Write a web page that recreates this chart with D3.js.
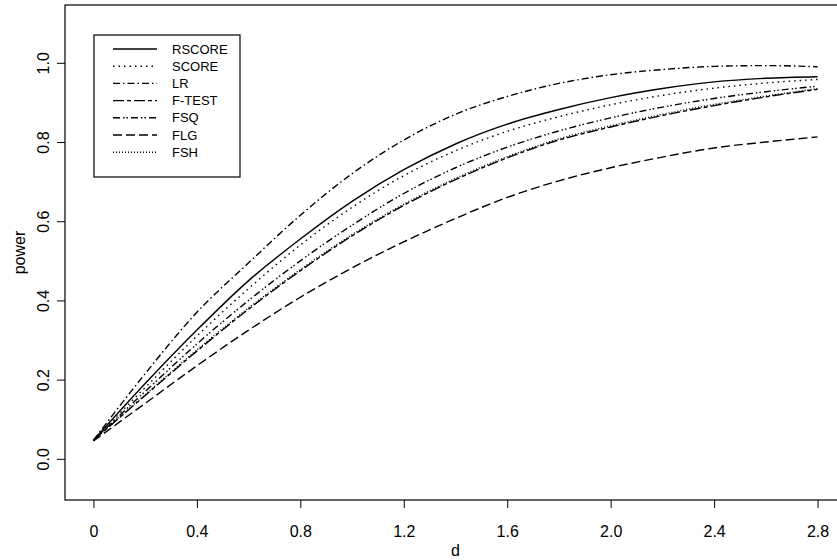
<!DOCTYPE html>
<html>
<head>
<meta charset="utf-8">
<script src="https://cdn.jsdelivr.net/npm/d3@7"></script>
<style>
body { margin: 0; background: #fff; }
text { font-family: "Liberation Sans", Arial, sans-serif; fill: #000; }
</style>
</head>
<body>
<svg id="chart" width="837" height="560"></svg>
<script>
// power curves, one value per d
var dValues = [0, 0.2, 0.4, 0.6, 0.8, 1.0, 1.2, 1.4, 1.6, 1.8, 2.0, 2.2, 2.4, 2.6, 2.8];
var rscore = [0.047, 0.19, 0.325, 0.45, 0.555, 0.65, 0.73, 0.795, 0.845, 0.882, 0.912, 0.935, 0.952, 0.961, 0.965];
var score  = [0.047, 0.18, 0.31, 0.43, 0.54, 0.635, 0.715, 0.778, 0.827, 0.864, 0.894, 0.918, 0.936, 0.949, 0.958];
var lr     = [0.047, 0.215, 0.37, 0.495, 0.615, 0.72, 0.805, 0.87, 0.915, 0.948, 0.97, 0.983, 0.991, 0.993, 0.99];
var ftest  = [0.047, 0.16, 0.272, 0.378, 0.475, 0.563, 0.64, 0.705, 0.76, 0.805, 0.838, 0.867, 0.892, 0.914, 0.933];
var fsq    = [0.047, 0.17, 0.29, 0.40, 0.50, 0.59, 0.67, 0.735, 0.787, 0.828, 0.861, 0.888, 0.91, 0.927, 0.941];
var flg    = [0.045, 0.14, 0.235, 0.325, 0.408, 0.482, 0.548, 0.607, 0.66, 0.702, 0.735, 0.762, 0.785, 0.80, 0.813];
var fsh    = [0.047, 0.162, 0.275, 0.381, 0.478, 0.566, 0.643, 0.708, 0.763, 0.808, 0.841, 0.87, 0.895, 0.916, 0.935];

var seriesNames = ["RSCORE", "SCORE", "LR", "F-TEST", "FSQ", "FLG", "FSH"];
var seriesValues = [rscore, score, lr, ftest, fsq, flg, fsh];

var xTickValues = [0, 0.4, 0.8, 1.2, 1.6, 2.0, 2.4, 2.8];
var xTickLabels = ["0", "0.4", "0.8", "1.2", "1.6", "2.0", "2.4", "2.8"];
var yTickValues = [0, 0.2, 0.4, 0.6, 0.8, 1.0];
var yTickLabels = ["0.0", "0.2", "0.4", "0.6", "0.8", "1.0"];

// line type per series (R lty look-alikes)
var dashes = {
    "RSCORE": null,
    "SCORE": "1.5,4",
    "LR": "7,3,1.5,3",
    "F-TEST": "11,3,4,3",
    "FSQ": "7,3,1.5,2,1.5,3",
    "FLG": "9,4",
    "FSH": "1,2"
};

var svg = d3.select("#chart");
var plot = {left: 65, top: 5, right: 846, bottom: 500};

var x = d3.scaleLinear()
    .domain([-0.11, 2.91])
    .range([plot.left, plot.right]);
var y = d3.scaleLinear()
    .domain([-0.104, 1.146])
    .range([plot.bottom, plot.top]);

//x axis
var xAxis = d3.axisBottom(x)
    .tickValues(xTickValues)
    .tickFormat(function(d, i){ return xTickLabels[i]; })
    .tickSize(8)
    .tickPadding(18);
var gx = svg.append("g")
    .attr("transform", "translate(0," + plot.bottom + ")")
    .call(xAxis);
gx.select(".domain").remove();
gx.selectAll("text").attr("font-size", "16px").attr("font-family", "Liberation Sans, Arial, sans-serif");

//y axis, labels turned like R's las=0
var yAxis = d3.axisLeft(y)
    .tickValues(yTickValues)
    .tickFormat(function(d, i){ return yTickLabels[i]; })
    .tickSize(8);
var gy = svg.append("g")
    .attr("transform", "translate(" + plot.left + ",0)")
    .call(yAxis);
gy.select(".domain").remove();
gy.selectAll("text")
    .attr("x", null)
    .attr("dy", null)
    .attr("transform", "translate(-16,0) rotate(-90)")
    .attr("text-anchor", "middle")
    .attr("font-size", "16px")
    .attr("font-family", "Liberation Sans, Arial, sans-serif");

svg.selectAll(".tick line").attr("stroke", "#000");

// box round the plot
svg.append("rect")
    .attr("x", plot.left)
    .attr("y", plot.top)
    .attr("width", plot.right - plot.left)
    .attr("height", plot.bottom - plot.top)
    .attr("fill", "none")
    .attr("stroke", "#000")
    .attr("stroke-width", 1.2);

svg.append("text")
    .attr("x", (plot.left + plot.right) / 2)
    .attr("y", 556)
    .attr("text-anchor", "middle")
    .attr("font-size", "16px")
    .text("d");
svg.append("text")
    .attr("transform", "translate(25," + (plot.top + plot.bottom) / 2 + ") rotate(-90)")
    .attr("text-anchor", "middle")
    .attr("font-size", "16px")
    .text("power");

// curves
var line = d3.line()
    .x(function(d){ return x(d[0]); })
    .y(function(d){ return y(d[1]); })
    .curve(d3.curveMonotoneX);

seriesNames.forEach(function(name, i){
    var pts = dValues.map(function(d, j){ return [d, seriesValues[i][j]]; });
    svg.append("path")
        .datum(pts)
        .attr("d", line)
        .attr("fill", "none")
        .attr("stroke", "#000")
        .attr("stroke-width", 1.4)
        .attr("stroke-dasharray", dashes[name]);
});

// legend
var legend = svg.append("g");
legend.append("rect")
    .attr("x", 94)
    .attr("y", 35)
    .attr("width", 146)
    .attr("height", 142)
    .attr("fill", "#fff")
    .attr("stroke", "#000")
    .attr("stroke-width", 1.2);
seriesNames.forEach(function(name, i){
    var ly = 49 + i * 17.2;
    legend.append("line")
        .attr("x1", 113).attr("x2", 157)
        .attr("y1", ly).attr("y2", ly)
        .attr("stroke", "#000")
        .attr("stroke-width", 1.4)
        .attr("stroke-dasharray", dashes[name]);
    legend.append("text")
        .attr("x", 172)
        .attr("y", ly)
        .attr("dy", "0.36em")
        .attr("font-size", "13px")
        .text(name);
});
</script>
</body>
</html>
